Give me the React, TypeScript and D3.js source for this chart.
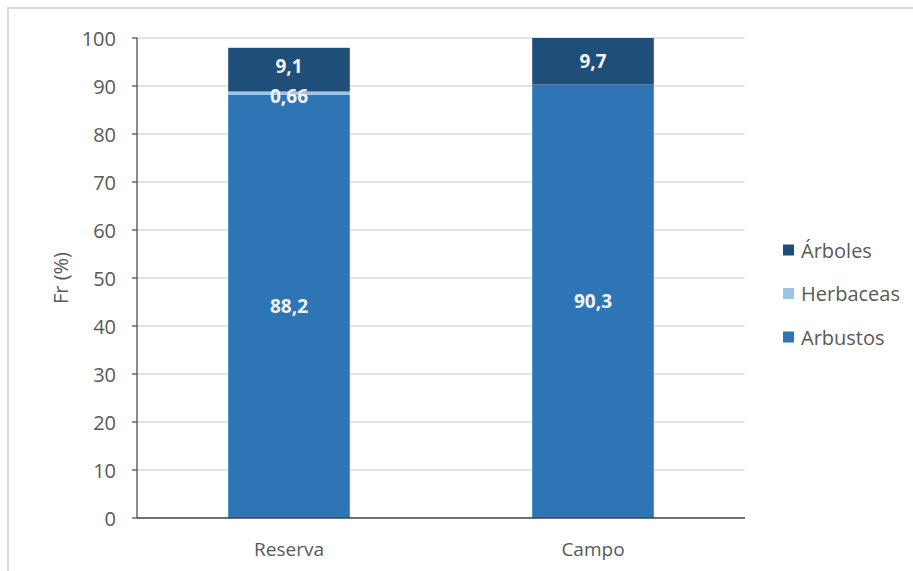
import React from "react";
import * as d3 from "d3";

const categories = ["Reserva", "Campo"];
const seriesNames = ["Arbustos", "Herbaceas", "Árboles"];
const arbustos = [88.2, 90.3];
const herbaceas = [0.66, 0];
const arboles = [9.1, 9.7];
const yTicks = [0, 10, 20, 30, 40, 50, 60, 70, 80, 90, 100];
const colors = ["#2E75B6", "#9DC3E6", "#1F4E79"];
const legendOrder = ["Árboles", "Herbaceas", "Arbustos"];

const fmt = (v: number) => String(v).replace(".", ",");

export default function App() {
  const W = 913, H = 571;
  const left = 137, right = 745, top = 38, bottom = 518;
  const x = d3.scaleBand().domain(categories).range([left, right]).paddingInner(0.6).paddingOuter(0.3);
  const y = d3.scaleLinear().domain([0, 100]).range([bottom, top]);
  const rows = categories.map((c, i) => ({ cat: c, Arbustos: arbustos[i], Herbaceas: herbaceas[i], "Árboles": arboles[i] }));
  const stack = d3.stack<any>().keys(seriesNames)(rows);
  const font = "'Open Sans', sans-serif";
  const txt = "#595959";
  return (
    <svg width={W} height={H} style={{ position: "absolute", left: 0, top: 0 }} fontFamily={font}>
      <rect x={8} y={8} width={W + 20} height={H + 20} fill="#fff" stroke="#d9d9d9" strokeWidth={2} />
      {yTicks.map((t) => (
        <g key={t}>
          {t > 0 && <line x1={left} x2={right} y1={y(t)} y2={y(t)} stroke="#d9d9d9" strokeWidth={1.5} />}
          <line x1={left - 5} x2={left} y1={y(t)} y2={y(t)} stroke="#404040" strokeWidth={1.2} />
          <text x={116} y={y(t)} textAnchor="end" dominantBaseline="central" fontSize={20} fill={txt}>{t}</text>
        </g>
      ))}
      {stack.map((s, si) =>
        s.map((d, i) => {
          const v = d[1] - d[0];
          if (v <= 0) return null;
          return (
            <rect key={si + "-" + i} x={x(categories[i])} width={x.bandwidth()} y={y(d[1])} height={y(d[0]) - y(d[1])} fill={colors[si]} />
          );
        })
      )}
      {stack.map((s, si) =>
        s.map((d, i) => {
          const v = d[1] - d[0];
          if (v <= 0) return null;
          const dy = si === 1 ? 3 : si === 2 && i === 0 ? -4 : 0;
          return (
            <text key={"l" + si + "-" + i} x={(x(categories[i]) as number) + x.bandwidth() / 2} y={y((d[0] + d[1]) / 2) + dy}
              textAnchor="middle" dominantBaseline="central" fontSize={19} fontWeight="bold" fill="#f2f2f2">{fmt(Math.round(v * 100) / 100)}</text>
          );
        })
      )}
      <line x1={left} x2={left} y1={top} y2={bottom} stroke="#404040" strokeWidth={1.2} />
      <line x1={left} x2={right} y1={bottom} y2={bottom} stroke="#404040" strokeWidth={1.5} />
      {categories.map((c) => (
        <text key={c} x={(x(c) as number) + x.bandwidth() / 2} y={549} textAnchor="middle" dominantBaseline="central" fontSize={19} fill={txt}>{c}</text>
      ))}
      <text transform={`translate(60,${(top + bottom) / 2}) rotate(-90)`} textAnchor="middle" dominantBaseline="central" fontSize={20} fill={txt}>Fr (%)</text>
      {legendOrder.map((name, i) => (
        <g key={name} transform={`translate(783,${250 + i * 43.5})`}>
          <rect x={0} y={-5.5} width={11} height={11} fill={colors[seriesNames.indexOf(name)]} />
          <text x={18} y={0} dominantBaseline="central" fontSize={20} fill={txt}>{name}</text>
        </g>
      ))}
    </svg>
  );
}
